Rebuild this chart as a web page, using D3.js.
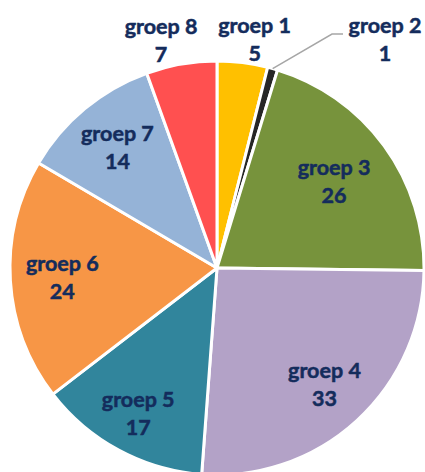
<!DOCTYPE html>
<html>
<head>
<meta charset="utf-8">
<script src="https://cdn.jsdelivr.net/npm/d3@7"></script>
<style>
  html, body { margin: 0; padding: 0; background: #fff; }
  svg { display: block; }
</style>
</head>
<body>
<div id="chart"></div>
<script>
// data
const groups = ['groep 1', 'groep 2', 'groep 3', 'groep 4', 'groep 5', 'groep 6', 'groep 7', 'groep 8'];
const counts = [5, 1, 26, 33, 17, 24, 14, 7];
const sliceColors = ['#FFC000', '#262626', '#77933C', '#B3A2C7', '#31859C', '#F79646', '#95B3D7', '#FF5050'];

const width = 425, height = 472;
const cx = 217, cy = 268, radius = 207;

const svg = d3.select('#chart').append('svg')
  .attr('width', width)
  .attr('height', height);

const g = svg.append('g')
  .attr('transform', 'translate(' + cx + ',' + cy + ')');

const color = d3.scaleOrdinal().domain(groups).range(sliceColors);

const pie = d3.pie().sort(null).value((d) => d.value);
const arcs = pie(groups.map((name, i) => ({ name: name, value: counts[i] })));

const arc = d3.arc().innerRadius(0).outerRadius(radius);

g.selectAll('path.slice')
  .data(arcs)
  .enter()
  .append('path')
  .attr('class', 'slice')
  .attr('d', arc)
  .style('fill', (d) => color(d.data.name))
  .style('stroke', '#fff')
  .style('stroke-width', 3)
  .style('stroke-linejoin', 'round');

// label distance from the centre, tuned per slice to sit like the original
const labelRadius = { 'groep 3': 145, 'groep 4': 159, 'groep 5': 166, 'groep 6': 155, 'groep 7': 156 };
// small slices get their label outside the pie; nudges keep them apart like the original
const outside = { 'groep 1': 9, 'groep 8': -16 };
const leader = 'groep 2';

function labelPos(d) {
  if (d.data.name === leader) {
    const p = arc.centroid(d);
    const len = Math.hypot(p[0], p[1]);
    return { x: 168, y: -228, edge: [p[0] / len * radius, p[1] / len * radius] };
  }
  if (outside[d.data.name] !== undefined) {
    const p = d3.arc().innerRadius(232).outerRadius(232).centroid(d);
    return { x: p[0] + outside[d.data.name], y: p[1] + 2 };
  }
  const r = labelRadius[d.data.name] || 155;
  const p = d3.arc().innerRadius(r).outerRadius(r).centroid(d);
  return { x: p[0], y: p[1] };
}

// leader line for the thin slice
arcs.filter((d) => d.data.name === leader).forEach((d) => {
  const pos = labelPos(d);
  g.append('polyline')
    .attr('points', [pos.edge, [pos.x - 53, pos.y - 6], [pos.x - 42, pos.y - 6]].map((p) => p.join(',')).join(' '))
    .style('fill', 'none')
    .style('stroke', '#A6A6A6')
    .style('stroke-width', 1.5);
});

const labels = g.selectAll('text.label')
  .data(arcs)
  .enter()
  .append('text')
  .attr('class', 'label')
  .attr('text-anchor', 'middle')
  .style('font-family', 'Lato, "Open Sans", sans-serif')
  .style('font-weight', 700)
  .style('font-size', '21.5px')
  .style('fill', '#142C5C')
  .style('stroke', '#142C5C')
  .style('stroke-width', 0.5);

labels.append('tspan')
  .attr('x', (d) => labelPos(d).x)
  .attr('y', (d) => labelPos(d).y - 7)
  .text((d) => d.data.name);

labels.append('tspan')
  .attr('x', (d) => labelPos(d).x)
  .attr('y', (d) => labelPos(d).y + 21)
  .text((d) => d.data.value);
</script>
</body>
</html>
